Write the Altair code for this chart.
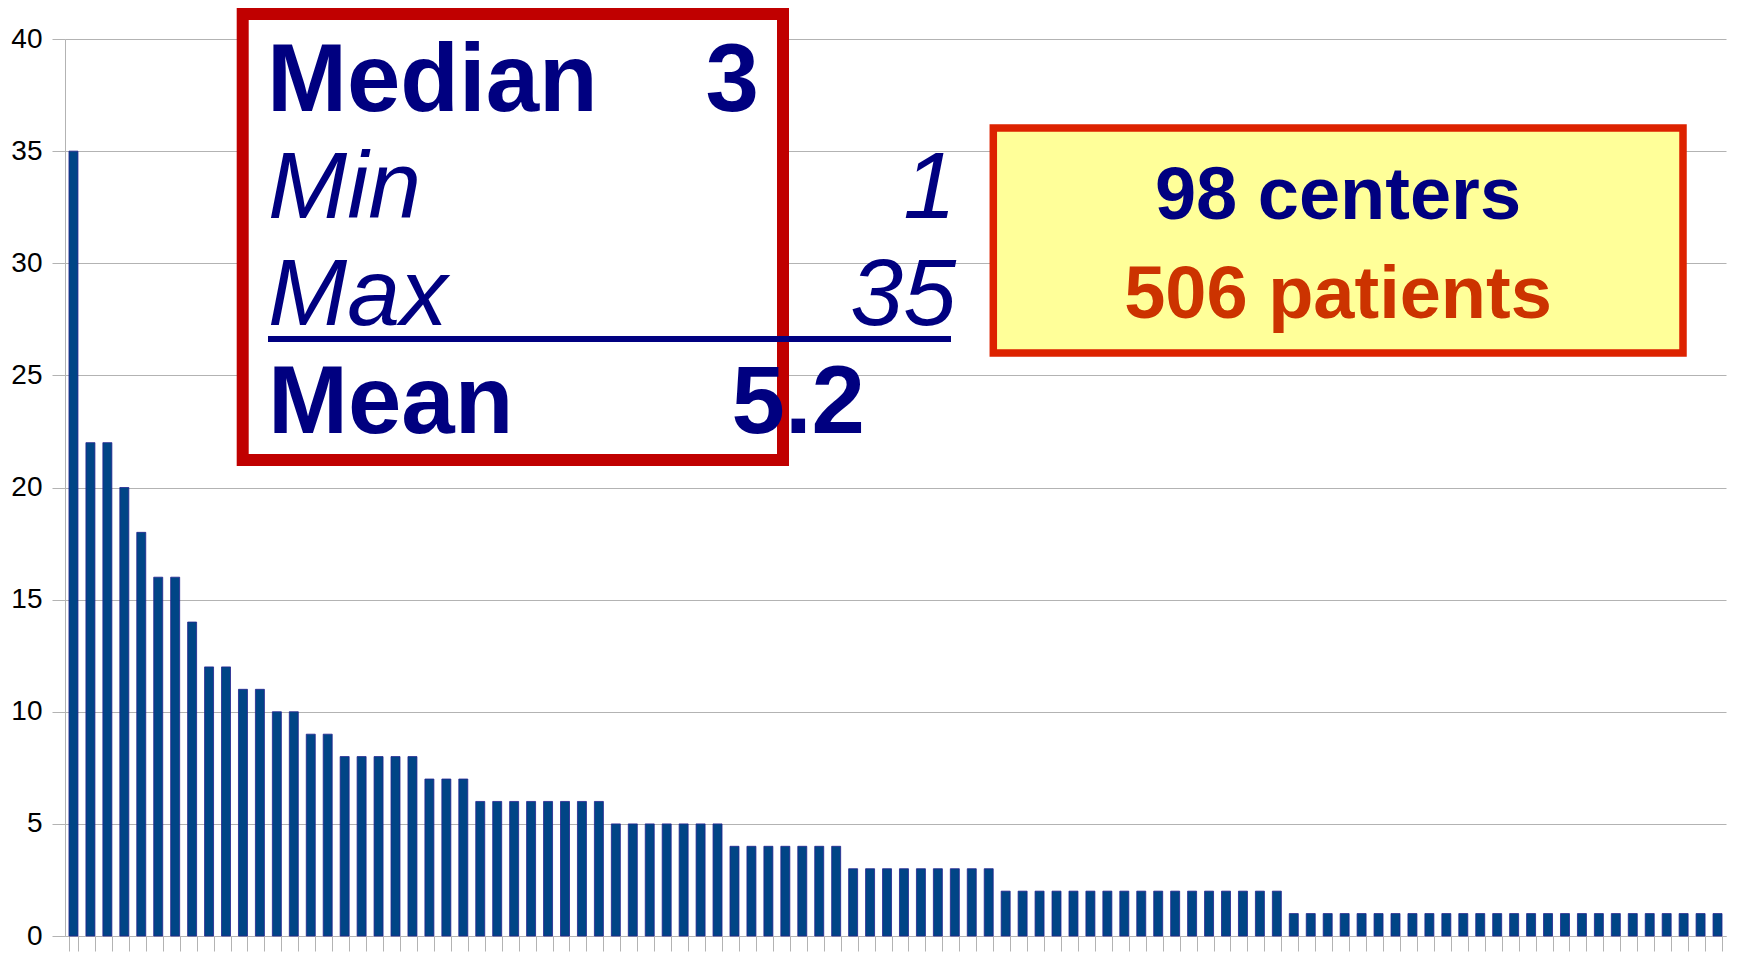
import altair as alt
import pandas as pd

# ---------------- data ----------------
centers = list(range(1, 99))
patients = [35, 22, 22, 20, 18, 16, 16, 14, 12, 12, 11, 11, 10, 10, 9, 9,
            8, 8, 8, 8, 8, 7, 7, 7,
            6, 6, 6, 6, 6, 6, 6, 6,
            5, 5, 5, 5, 5, 5, 5,
            4, 4, 4, 4, 4, 4, 4,
            3, 3, 3, 3, 3, 3, 3, 3, 3,
            2, 2, 2, 2, 2, 2, 2, 2, 2, 2, 2, 2, 2, 2, 2, 2, 2,
            1, 1, 1, 1, 1, 1, 1, 1, 1, 1, 1, 1, 1, 1, 1, 1, 1, 1, 1, 1, 1, 1, 1, 1, 1, 1]
y_ticks = [0, 5, 10, 15, 20, 25, 30, 35, 40]

stats_labels = ["Median", "Min", "Max", "Mean"]
stats_values = ["3", "1", "35", "5.2"]
summary_lines = ["98 centers", "506 patients"]

df = pd.DataFrame({"center": centers, "patients": patients})

W, H = 1661, 897
NAVY = "#000080"
FONT = "Liberation Sans"

bars = alt.Chart(df).mark_bar(fill="#004586", stroke="#23238f", strokeWidth=0.8).encode(
    x=alt.X("center:O", sort=None,
            scale=alt.Scale(paddingInner=0.47, paddingOuter=0.235),
            axis=alt.Axis(labels=False, title=None, tickBand="extent", ticks=True,
                          tickSize=15, tickColor="#b3b3b3", domainColor="#b3b3b3",
                          grid=False)),
    y=alt.Y("patients:Q", scale=alt.Scale(domain=[0, 40], nice=False),
            axis=alt.Axis(values=y_ticks, title=None, tickSize=13, tickColor="#b3b3b3",
                          domainColor="#b3b3b3", gridColor="#b3b3b3", grid=True,
                          labelFont=FONT, labelFontSize=28, labelColor="#000000",
                          labelPadding=10)),
)

one = pd.DataFrame({"k": [0]})

red_box = alt.Chart(one).mark_rect(fill="white", stroke="#C00000", strokeWidth=12).encode(
    x=alt.value(177.7), x2=alt.value(718), y=alt.value(-25), y2=alt.value(421))

yellow_box = alt.Chart(one).mark_rect(fill="#FFFF99", stroke="#DD2200", strokeWidth=7.5).encode(
    x=alt.value(928.3), x2=alt.value(1618), y=alt.value(89), y2=alt.value(314))

rule = alt.Chart(one).mark_rule(color=NAVY, strokeWidth=6).encode(
    x=alt.value(203), x2=alt.value(886), y=alt.value(300))


def txt(s, x, y, align, size=96, weight="bold", style="normal", color=NAVY):
    return alt.Chart(pd.DataFrame({"t": [s]})).mark_text(
        align=align, baseline="alphabetic", font=FONT, fontSize=size,
        fontWeight=weight, fontStyle=style, color=color
    ).encode(x=alt.value(x), y=alt.value(y), text="t:N")


texts = [
    txt(stats_labels[0], 202, 72, "left"),
    txt(stats_values[0], 694, 72, "right"),
    txt(stats_labels[1], 203, 179, "left", size=95, weight="normal", style="italic"),
    txt(stats_values[1], 891, 179, "right", size=95, weight="normal", style="italic"),
    txt(stats_labels[2], 203, 286, "left", size=95, weight="normal", style="italic"),
    txt(stats_values[2], 891, 286, "right", size=95, weight="normal", style="italic"),
    txt(stats_labels[3], 203, 394, "left"),
    txt(stats_values[3], 800, 394, "right"),
    txt(summary_lines[0], 1273, 180, "center", size=74),
    txt(summary_lines[1], 1273, 279, "center", size=74, color="#CC3300"),
]

chart = alt.layer(bars, red_box, yellow_box, rule, *texts).properties(
    width=W, height=H,
    autosize=alt.AutoSizeParams(type="none"),
    padding={"left": 57, "top": 31, "right": 8, "bottom": 18},
    background="white",
).configure_view(stroke=None)

chart.save("out.html", embed_options={"renderer": "svg", "actions": False})
